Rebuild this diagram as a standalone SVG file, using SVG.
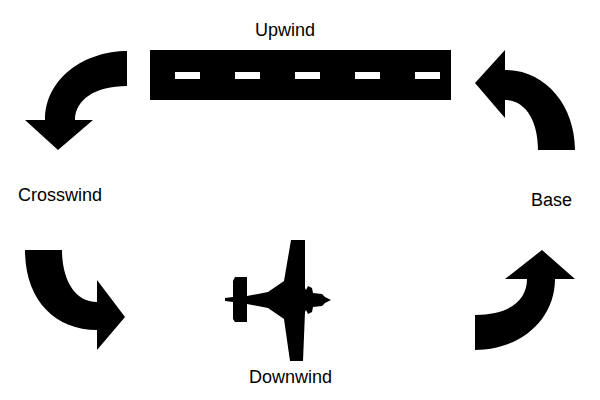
<svg xmlns="http://www.w3.org/2000/svg" width="600" height="400" viewBox="0 0 600 400">
  <style>
    .lbl { font-family: "Liberation Sans", Arial, sans-serif; font-size: 18px; fill: #000; }
    .ink { fill: #000; stroke: none; }
    .dash { fill: #fff; }
  </style>
  <rect width="600" height="400" fill="#fff"/>

  <g id="upwind">
    <rect class="ink" x="150" y="50" width="301" height="50"/>
    <rect class="dash" x="175" y="72" width="25" height="7"/>
    <rect class="dash" x="235" y="72" width="25" height="7"/>
    <rect class="dash" x="295" y="72" width="25" height="7"/>
    <rect class="dash" x="355" y="72" width="25" height="7"/>
    <rect class="dash" x="415" y="72" width="25" height="7"/>
    <text class="lbl" x="255" y="36">Upwind</text>
  </g>

  <g id="crosswind">
    <text class="lbl" x="18" y="201">Crosswind</text>
  </g>

  <g id="base">
    <text class="lbl" x="531" y="206">Base</text>
  </g>

  <g id="downwind">
    <path class="ink" d="M331,300 L325,297 L322,294 L313,293 L312,288 L308,286 L306,290 L305,288 L305,240 L291,240 L284,281 L268,292 L247,296 L247,277 L235,277 L233,281 L233,297 L225,298 L225,301 L233,302 L233,319 L235,322 L247,322 L247,304 L268,308 L284,319 L290,361 L303,361 L305,312 L306,310 L308,314 L312,312 L313,307 L322,306 L325,303 Z"/>
    <text class="lbl" x="249" y="383">Downwind</text>
  </g>

  <g id="connectors">
    <path class="ink" d="M127,51 C85,51 45,78 45,120 L25,120 L58,150 L93,120 L75,120 C75,100 95,86 127,86 Z"/>
    <path class="ink" d="M575,150 C575,105 545,70 505,70 L505,50 L475,83 L505,118 L505,100 C525,100 538,120 538,150 Z"/>
    <path class="ink" d="M25,250 C25,300 55,330 97,330 L97,350 L125,317 L97,280 L97,302 C75,302 62,280 62,250 Z"/>
    <path class="ink" d="M475,315 C510,315 527,300 527,279 L505,279 L542,250 L575,279 L555,279 C555,320 520,350 475,350 Z"/>
  </g>
</svg>
